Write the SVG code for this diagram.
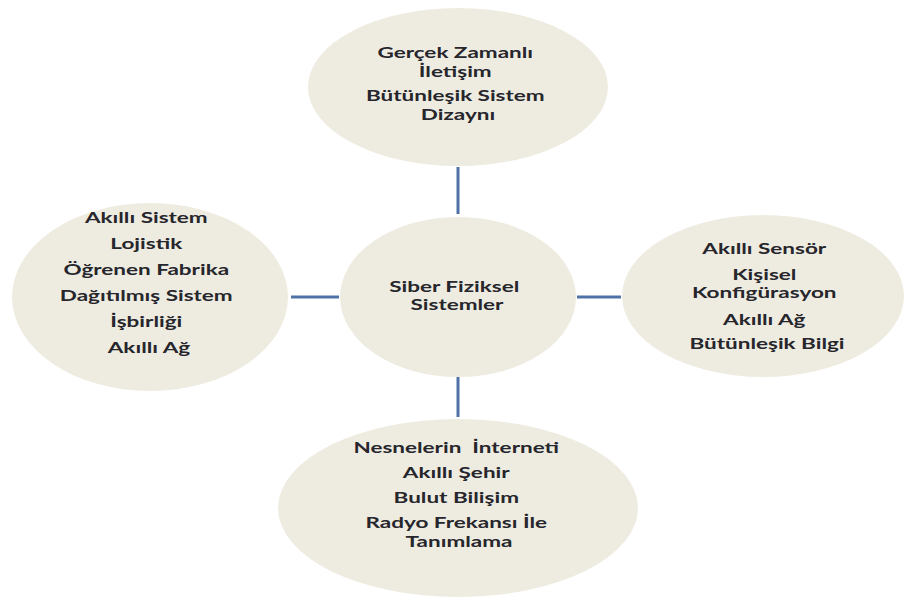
<svg xmlns="http://www.w3.org/2000/svg" width="904" height="597" viewBox="0 0 904 597">
  <style>
    .bubble { fill: #EEECE1; }
    .link { stroke: #4E72A6; stroke-width: 3; fill: none; }
    .lbl { font-family: Lato, "Open Sans", "Liberation Sans", sans-serif; font-size: 15px; font-weight: 700; fill: #26262C; text-anchor: middle; }
  </style>
  <rect width="904" height="597" fill="#FFFFFF"/>

  <g id="connectors">
    <line class="link" x1="458" y1="167" x2="458" y2="214"/>
    <line class="link" x1="291" y1="297" x2="339" y2="297"/>
    <line class="link" x1="577" y1="297" x2="621" y2="297"/>
    <line class="link" x1="458" y1="377" x2="458" y2="417"/>
  </g>

  <g id="node-top">
    <ellipse class="bubble" cx="458" cy="87" rx="150" ry="79"/>
    <text class="lbl" transform="translate(458,0) scale(1.5,1)">
      <tspan x="0" y="58">Gerçek Zamanlı</tspan>
      <tspan x="0" y="77">İletişim</tspan>
      <tspan x="0" y="101">Bütünleşik Sistem</tspan>
      <tspan x="0" y="120">Dizaynı</tspan>
    </text>
  </g>

  <g id="node-left">
    <ellipse class="bubble" cx="150" cy="297" rx="138" ry="94"/>
    <text class="lbl" transform="translate(149,0) scale(1.5,1)">
      <tspan x="0" y="223">Akıllı Sistem</tspan>
      <tspan x="0" y="249">Lojistik</tspan>
      <tspan x="0" y="275">Öğrenen Fabrika</tspan>
      <tspan x="0" y="301">Dağıtılmış Sistem</tspan>
      <tspan x="0" y="327">İşbirliği</tspan>
      <tspan x="0" y="353">Akıllı Ağ</tspan>
    </text>
  </g>

  <g id="node-center">
    <ellipse class="bubble" cx="458" cy="297" rx="118" ry="80"/>
    <text class="lbl" transform="translate(457,0) scale(1.5,1)">
      <tspan x="0" y="292">Siber Fiziksel</tspan>
      <tspan x="0" y="310">Sistemler</tspan>
    </text>
  </g>

  <g id="node-right">
    <ellipse class="bubble" cx="763" cy="296" rx="141" ry="81"/>
    <text class="lbl" transform="translate(767,0) scale(1.5,1)">
      <tspan x="0" y="254">Akıllı Sensör</tspan>
      <tspan x="0" y="280">Kişisel</tspan>
      <tspan x="0" y="298">Konfigürasyon</tspan>
      <tspan x="0" y="325">Akıllı Ağ</tspan>
      <tspan x="0" y="349">Bütünleşik Bilgi</tspan>
    </text>
  </g>

  <g id="node-bottom">
    <ellipse class="bubble" cx="458" cy="508" rx="180" ry="89"/>
    <text class="lbl" transform="translate(459,0) scale(1.5,1)">
      <tspan x="0" y="453">Nesnelerin&#160; İnterneti</tspan>
      <tspan x="0" y="478">Akıllı Şehir</tspan>
      <tspan x="0" y="503">Bulut Bilişim</tspan>
      <tspan x="0" y="528">Radyo Frekansı İle</tspan>
      <tspan x="0" y="547">Tanımlama</tspan>
    </text>
  </g>
</svg>
